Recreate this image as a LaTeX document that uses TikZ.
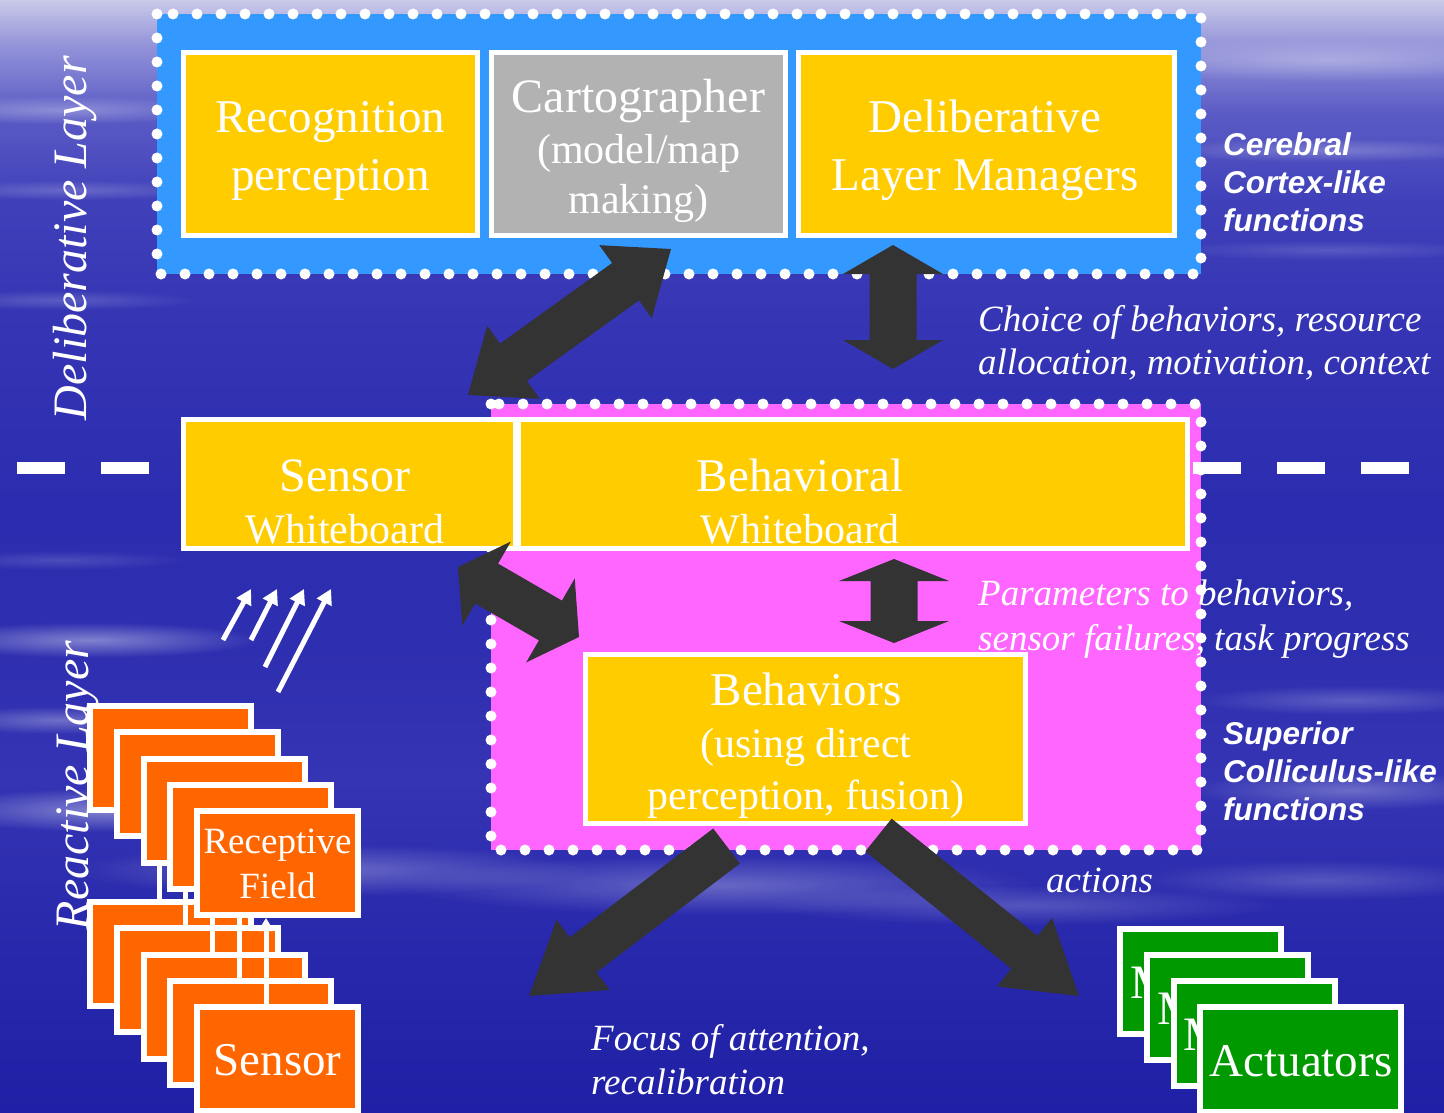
\documentclass[tikz,border=0pt]{standalone}
\usepackage{fontspec}
\setmainfont{Liberation Serif}
\newfontfamily\sidefont{Liberation Sans}
\usetikzlibrary{calc,arrows.meta,fadings}

\definecolor{boxyellow}{HTML}{FFCC00}
\definecolor{boxgray}{HTML}{B2B2B2}
\definecolor{cortexblue}{HTML}{3399FF}
\definecolor{collpink}{HTML}{FF66FF}
\definecolor{rforange}{HTML}{FF6600}
\definecolor{actgreen}{HTML}{009900}
\definecolor{arrowgray}{HTML}{333333}
\definecolor{skyA}{HTML}{2020A6}
\definecolor{skyB}{HTML}{2828AC}
\definecolor{skyC}{HTML}{3434B4}
\definecolor{skyD}{HTML}{2E2EB0}
\definecolor{skyE}{HTML}{2C2CB0}
\definecolor{skyF}{HTML}{3434B4}
\definecolor{skyG}{HTML}{4040BA}
\definecolor{skyH}{HTML}{5C5CC6}
\definecolor{skyI}{HTML}{9494DA}
\definecolor{skyJ}{HTML}{CACAEA}

\pgfdeclareverticalshading{skyshade}{100bp}{%
  color(0bp)=(skyA); color(25bp)=(skyA); color(32.5bp)=(skyB);
  color(40bp)=(skyC); color(46bp)=(skyD); color(52.5bp)=(skyE);
  color(60bp)=(skyF); color(66bp)=(skyG); color(70bp)=(skyH);
  color(73bp)=(skyI); color(75bp)=(skyJ); color(100bp)=(skyJ)}

\tikzfading[name=softglow, inner color=transparent!0, outer color=transparent!100]

\pgfdeclarelayer{sky}
\pgfdeclarelayer{under}
\pgfsetlayers{sky,under,main}

\newcommand{\fsz}[2]{\fontsize{#1}{#2}\selectfont}

% fat two-headed arrow: tip, tip, half shaft width, head length, half head width
\newcommand{\dblfat}[5]{%
  \fill[fatfill] (#1)
    -- ($(#1)!#4!(#2)!#5!90:(#2)$) -- ($(#1)!#4!(#2)!#3!90:(#2)$)
    -- ($(#2)!#4!(#1)!#3!-90:(#1)$) -- ($(#2)!#4!(#1)!#5!-90:(#1)$)
    -- (#2)
    -- ($(#2)!#4!(#1)!#5!90:(#1)$) -- ($(#2)!#4!(#1)!#3!90:(#1)$)
    -- ($(#1)!#4!(#2)!#3!-90:(#2)$) -- ($(#1)!#4!(#2)!#5!-90:(#2)$)
    -- cycle;}
% fat one-headed arrow: tail centre, tip, half shaft width, head length, half head width
\newcommand{\onefat}[5]{%
  \fill[fatfill] (#2)
    -- ($(#2)!#4!(#1)!#5!90:(#1)$) -- ($(#2)!#4!(#1)!#3!90:(#1)$)
    -- ($(#1)!#3!-90:(#2)$) -- ($(#1)!#3!90:(#2)$)
    -- ($(#2)!#4!(#1)!#3!-90:(#1)$) -- ($(#2)!#4!(#1)!#5!-90:(#1)$)
    -- cycle;}
% soft light streak in the sky
\newcommand{\streak}[4]{%
  \fill[white, path fading=softglow, fill opacity=#4] (#1) ellipse [x radius=#2, y radius=#3];}

\begin{document}
\begin{tikzpicture}[x=1pt, y=-1pt,
  txt/.style={text=white, inner sep=0pt, outer sep=0pt, align=center},
  wbox/.style={draw=white, line width=5pt, inner sep=0pt},
  ybox/.style={wbox, fill=boxyellow},
  obox/.style={draw=white, line width=6pt, fill=rforange, inner sep=0pt,
               minimum width=161pt, minimum height=104pt},
  gbox/.style={draw=white, line width=6pt, fill=actgreen, inner sep=0pt,
               minimum width=161pt, minimum height=105pt},
  dotrim/.style={draw=white, line width=11pt, line cap=round, dash pattern=on 0pt off 24pt},
  fatfill/.style={fill=arrowgray},
  sigline/.style={draw=white, line width=5pt, -{Triangle[width=15pt,length=13pt]}},
  ray/.style={draw=white, line width=5pt, -{Triangle[width=16pt,length=15pt]}},
  note/.style={text=white, font=\itshape\fsz{37}{43}, align=left, anchor=base west,
               inner sep=0pt},
  sidelab/.style={text=white, font=\sidefont\bfseries\itshape\fsz{31.5}{38}, align=left,
                  anchor=base west, inner sep=0pt},
]
\useasboundingbox (0,0) rectangle (1444,1113);

\begin{pgfonlayer}{sky}
  \shade[shading=skyshade] (0,0) rectangle (1444,1113);
  % light streaks
  \streak{60,110}{170pt}{14pt}{0.3}
  \streak{70,190}{150pt}{10pt}{0.2}
  \streak{60,300}{140pt}{10pt}{0.18}
  \streak{1330,60}{220pt}{22pt}{0.3}
  \streak{1330,150}{180pt}{12pt}{0.25}
  \streak{1330,250}{170pt}{10pt}{0.15}
  \streak{60,560}{130pt}{10pt}{0.15}
  \streak{90,640}{170pt}{18pt}{0.4}
  \streak{60,720}{130pt}{14pt}{0.3}
  \streak{110,810}{180pt}{22pt}{0.4}
  \streak{330,870}{260pt}{26pt}{0.28}
  \streak{720,885}{320pt}{30pt}{0.28}
  \streak{1020,905}{260pt}{20pt}{0.2}
  \streak{1350,700}{160pt}{15pt}{0.22}
  \streak{1350,790}{160pt}{20pt}{0.28}
  \streak{1320,880}{190pt}{20pt}{0.2}

  % layer names
  \node[txt, rotate=90, anchor=base west, font=\itshape\fsz{48}{58}] (delibLab) at (86,420) {Deliberative Layer};
  \node[txt, rotate=90, anchor=base west, font=\itshape\fsz{48}{58}] (reactLab) at (88,930) {Reactive Layer};

  % cortex-like region
  \fill[cortexblue] (157,14) rectangle (1201,274);
  \draw[dotrim] (157,14) rectangle (1201,274);
  % colliculus-like region
  \fill[collpink] (491,404) rectangle (1201,850);
  \draw[dotrim] (491,404) rectangle (1201,850);

  % boundary between the layers
  \draw[white, line width=12pt, dash pattern=on 48pt off 36pt] (17,468) -- (1409,468);
\end{pgfonlayer}

% deliberative layer (text nodes sit on the baseline of their last line)
\node[ybox, minimum width=294pt, minimum height=183pt] (recog) at (330.5,144) {};
\node[wbox, fill=boxgray, minimum width=294pt, minimum height=183pt] (carto) at (638.5,144) {};
\node[ybox, minimum width=376pt, minimum height=183pt] (dlm) at (986.5,144) {};
\node[txt, anchor=base, font=\fsz{47}{58}] (recogT) at (330.5,190) {Recognition\\perception};
\node[txt, anchor=base, font=\fsz{42}{51}] (cartoT) at (638.5,214) {{\fsz{48}{52}Cartographer}\\(model/map\\making)};
\node[txt, anchor=base, font=\fsz{47}{58}] (dlmT) at (985,190) {Deliberative\\Layer Managers};

% whiteboards
\node[ybox, minimum width=332pt, minimum height=129pt] (sensWB) at (349.5,484) {};
\node[ybox, minimum width=669pt, minimum height=129pt] (behWB) at (853,484) {};
\node[txt, anchor=base, font=\fsz{42}{52}] (sensWBT) at (345,543) {{\fsz{48}{52}Sensor}\\Whiteboard};
\node[txt, anchor=base, font=\fsz{42}{52}] (behWBT) at (800,543) {{\fsz{47}{52}Behavioral}\\Whiteboard};

% behaviors
\node[ybox, minimum width=440pt, minimum height=169pt] (behav) at (805.5,739) {};
\node[txt, anchor=base, font=\fsz{42}{52}] (behavT) at (806,809) {{\fsz{47}{52}Behaviors}\\(using direct\\perception, fusion)};

% receptive fields
\foreach \k in {0,...,4}
  \node[obox] (rf\k) at ({170.5+26.75*\k},{758+26.25*\k}) {};
\node[txt, anchor=base, font=\fsz{37}{45}] (rfT) at (277.5,898) {Receptive\\Field};

% sensors and their signals, behind the receptive fields
\begin{pgfonlayer}{under}
  \foreach \k in {0,...,4}
    \node[obox] (sn\k) at ({170.5+26.75*\k},{954+26.25*\k}) {};
  \node[txt, anchor=base, font=\fsz{47}{56}] (snT) at (277.5,1075) {Sensor};
  \foreach \k in {0,...,4}
    \draw[sigline] ([xshift=-11.5pt]sn\k.north) -- ([xshift=-11.5pt]rf\k.south);
\end{pgfonlayer}

% actuators
\node[gbox] (act0) at (1200.5,981.5) {};
\node[txt, anchor=base west, font=\fsz{48}{56}] (act0T) at (1130,998) {M};
\node[gbox] (act1) at (1227.5,1007.5) {};
\node[txt, anchor=base west, font=\fsz{48}{56}] (act1T) at (1157,1024) {M};
\node[gbox] (act2) at (1254.5,1033.5) {};
\node[txt, anchor=base west, font=\fsz{48}{56}] (act2T) at (1183,1050) {M};
\node[gbox, minimum width=201pt] (act3) at (1300.5,1059.5) {};
\node[txt, anchor=base, font=\fsz{47}{56}] (act3T) at (1301,1076) {Actuators};

% flows between the modules
\coordinate (cgTip) at (671,249);   \coordinate (swTip) at (468,395);
\dblfat{cgTip}{swTip}{23pt}{56pt}{45pt}
\coordinate (dmTip) at (893,245);   \coordinate (bwTip) at (893,369);
\dblfat{dmTip}{bwTip}{23.5pt}{29pt}{50pt}
\coordinate (bwTipB) at (894,559);  \coordinate (bhTip) at (894,643);
\dblfat{bwTipB}{bhTip}{23.5pt}{22pt}{55pt}
\coordinate (swTipB) at (458,567);  \coordinate (bhTipB) at (579,637);
\dblfat{swTipB}{bhTipB}{23pt}{33pt}{48.5pt}
\coordinate (focTail) at (726.5,846); \coordinate (focTip) at (529,996);
\onefat{focTail}{focTip}{22pt}{68pt}{44pt}
\coordinate (actTail) at (878.5,835); \coordinate (actTip) at (1079,996);
\onefat{actTail}{actTip}{21pt}{70pt}{44pt}

% sensed data rising to the sensor whiteboard
\coordinate (ray1a) at (223,640); \coordinate (ray1b) at (251,589);
\coordinate (ray2a) at (251,640); \coordinate (ray2b) at (277,589);
\coordinate (ray3a) at (265,667); \coordinate (ray3b) at (304,589);
\coordinate (ray4a) at (278,692); \coordinate (ray4b) at (331,589);
\draw[ray] (ray1a) -- (ray1b);
\draw[ray] (ray2a) -- (ray2b);
\draw[ray] (ray3a) -- (ray3b);
\draw[ray] (ray4a) -- (ray4b);

% annotations
\node[note] (choiceN) at (978,374) {Choice of behaviors, resource\\allocation, motivation, context};
\node[note, font=\itshape\fsz{37}{45}] (paramN) at (978,650) {Parameters to behaviors,\\sensor failures, task progress};
\node[note] (actN) at (1046,892) {actions};
\node[note, font=\itshape\fsz{37}{44}] (focusN) at (591,1094) {Focus of attention,\\recalibration};
\node[sidelab] (cortexN) at (1223,231) {Cerebral\\Cortex-like\\functions};
\node[sidelab] (collN) at (1223,820) {Superior\\Colliculus-like\\functions};
\end{tikzpicture}
\end{document}
